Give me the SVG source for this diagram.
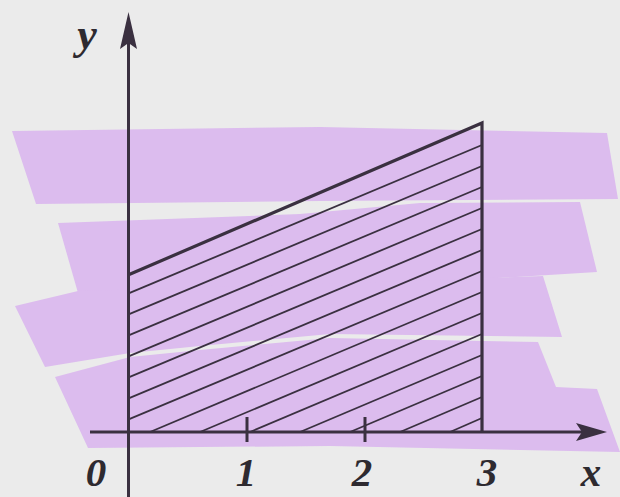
<svg xmlns="http://www.w3.org/2000/svg" width="620" height="497" viewBox="0 0 620 497">
<style>
.band{fill:#dcbcee;stroke:none}
.ax{stroke:#3a3040;stroke-width:3;fill:none;stroke-linecap:butt}
.edge{stroke:#3a3040;stroke-width:3.2;fill:none;stroke-linejoin:miter}
.hatch{stroke:#3a3040;stroke-width:1.8;fill:none}
.lbl{font-family:"Liberation Serif","Times New Roman",serif;font-style:italic;font-weight:bold;font-size:41px;fill:#2e2a30;text-anchor:middle}
</style>
<rect width="620" height="497" fill="#ebebeb"/>
<g id="highlight">
<polygon class="band" points="12,131 320,127 607,133 618,199 320,201 36,204"/>
<polygon class="band" points="58,223 300,214 420,203 580,202 597,272 320,289 78,293"/>
<polygon class="band" points="15,306 78,291 320,284 543,276 562,337 330,334 200,346 130,353 45,367"/>
<polygon class="band" points="55,377 130,357 200,350 330,338 538,342 556,387 597,389 620,452 330,446 88,448"/>
</g>
<g id="region">
<g id="hatching">
<line class="hatch" x1="128" y1="293.7" x2="482" y2="145"/>
<line class="hatch" x1="128" y1="314.7" x2="482" y2="166"/>
<line class="hatch" x1="128" y1="335.7" x2="482" y2="187"/>
<line class="hatch" x1="128" y1="356.7" x2="482" y2="208"/>
<line class="hatch" x1="128" y1="377.7" x2="482" y2="229"/>
<line class="hatch" x1="128" y1="398.7" x2="482" y2="250"/>
<line class="hatch" x1="128" y1="419.7" x2="482" y2="271"/>
<line class="hatch" x1="150" y1="432" x2="482" y2="292"/>
<line class="hatch" x1="200" y1="432" x2="482" y2="313"/>
<line class="hatch" x1="250" y1="432" x2="482" y2="334"/>
<line class="hatch" x1="300" y1="432" x2="482" y2="355"/>
<line class="hatch" x1="350" y1="432" x2="482" y2="376"/>
<line class="hatch" x1="400" y1="432" x2="482" y2="397"/>
<line class="hatch" x1="450" y1="432" x2="482" y2="418"/>
</g>
<polyline id="boundary" class="edge" points="128,275 482,123 482,432"/>
</g>
<g id="axes">
<line class="ax" x1="128.5" y1="497" x2="128.5" y2="40"/>
<polygon points="128.5,12 137,49 128.5,43 120,49" fill="#3a3040"/>
<line class="ax" x1="90" y1="432" x2="590" y2="432"/>
<polygon points="607,432 576,441 582,432 576,423" fill="#3a3040"/>
<line class="ax" x1="247" y1="417" x2="247" y2="442"/>
<line class="ax" x1="365" y1="417" x2="365" y2="442"/>
</g>
<g id="labels">
<text class="lbl" x="87" y="49" style="font-size:44px">y</text>
<text class="lbl" x="96" y="486">0</text>
<text class="lbl" x="246" y="486">1</text>
<text class="lbl" x="362" y="486">2</text>
<text class="lbl" x="487" y="486">3</text>
<text class="lbl" x="591" y="486">x</text>
</g>
</svg>
